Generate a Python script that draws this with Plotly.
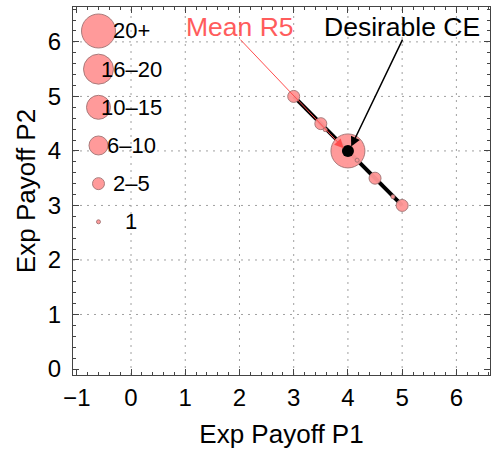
import plotly.graph_objects as go

# Observed outcomes (expected payoffs) and how many groups landed on each
p1_payoff = [3.0, 3.5, 4.0, 4.5, 5.0, 3.58, 4.17, 4.83]
p2_payoff = [5.0, 4.5, 4.0, 3.5, 3.0, 4.39, 3.83, 3.16]
group_bin = ["2–5", "2–5", "20+", "2–5", "2–5", "1", "1", "1"]

# Segment of correlated equilibria along the efficient frontier
ce_p1 = [3.0, 5.0]
ce_p2 = [5.0, 3.0]

# Desirable CE and the round-5 mean
desirable_ce = (4.0, 4.0)
mean_r5 = (3.92, 4.05)

# Bubble-size legend bins
bin_labels = ["20+", "16–20", "10–15", "6–10", "2–5", "1"]

BIN_DIAM = {"20+": 34, "16–20": 30, "10–15": 24, "6–10": 19, "2–5": 12, "1": 4}
FILL = "rgba(255,150,150,0.96)"
EDGE = "rgba(160,115,115,0.9)"
FONT = "Liberation Sans, Arial, sans-serif"

fig = go.Figure()

# dotted grid
for gx in range(0, 7):
    fig.add_shape(type="line", x0=gx, x1=gx, y0=0, y1=1, yref="paper", xref="x",
                  line=dict(color="#a0a0a0", width=1, dash="2px,5px"), layer="below")
for gy in range(1, 7):
    fig.add_shape(type="line", y0=gy, y1=gy, x0=0, x1=1, xref="paper", yref="y",
                  line=dict(color="#a0a0a0", width=1, dash="2px,5px"), layer="below")

fig.add_trace(go.Scatter(x=ce_p1, y=ce_p2, mode="lines",
                         line=dict(color="black", width=4), hoverinfo="skip"))

fig.add_trace(go.Scatter(
    x=p1_payoff, y=p2_payoff, mode="markers",
    marker=dict(size=[BIN_DIAM[b] for b in group_bin], color=FILL, opacity=1,
                line=dict(color=EDGE, width=1)),
))

fig.add_trace(go.Scatter(x=[desirable_ce[0]], y=[desirable_ce[1]], mode="markers",
                         marker=dict(size=12, color="black", opacity=1)))

# size legend drawn inside the plot
leg_y = [6.2 - 0.7 * i for i in range(len(bin_labels))]
fig.add_trace(go.Scatter(
    x=[-0.6] * len(bin_labels), y=leg_y, mode="markers",
    marker=dict(size=[BIN_DIAM[b] for b in bin_labels], color=FILL, opacity=1,
                line=dict(color=EDGE, width=1)),
))
for lab, ly in zip(bin_labels, leg_y):
    fig.add_annotation(x=0.0, y=ly, text=lab, showarrow=False,
                       font=dict(size=22, color="black", family=FONT),
                       xanchor="center", yanchor="middle")

# labelled arrows
fig.add_annotation(x=2.01, y=6.27, text="Mean R5", showarrow=False,
                   font=dict(size=26.5, color="#ff5c5c", family=FONT))
fig.add_annotation(x=mean_r5[0], y=mean_r5[1], ax=1.99, ay=6.07,
                   axref="x", ayref="y", text="", showarrow=True,
                   arrowhead=2, arrowsize=1.8, arrowwidth=1, arrowcolor="#ff4d4d")
fig.add_annotation(x=5.0, y=6.27, text="Desirable CE", showarrow=False,
                   font=dict(size=26.5, color="black", family=FONT))
fig.add_annotation(x=desirable_ce[0] + 0.06, y=desirable_ce[1] + 0.08, ax=5.02, ay=6.07,
                   axref="x", ayref="y", text="", showarrow=True,
                   arrowhead=2, arrowsize=1.3, arrowwidth=1.5, arrowcolor="black")

axis_common = dict(
    showgrid=False, zeroline=False, showline=True, linecolor="#444444", linewidth=1,
    mirror="allticks", ticks="inside", ticklen=6, tickcolor="#444444",
    tickfont=dict(size=24, color="black", family=FONT),
    minor=dict(ticks="inside", ticklen=3, dtick=0.2, tickcolor="#444444", showgrid=False),
    dtick=1,
)
fig.update_xaxes(range=[-1.07, 6.62], tick0=0, ticklabelstandoff=1,
                 title=dict(text="Exp Payoff P1", standoff=15,
                            font=dict(size=26, color="black", family=FONT)),
                 **axis_common)
fig.update_yaxes(range=[-0.11, 6.64], tick0=0, ticklabelstandoff=6,
                 title=dict(text="Exp Payoff P2", standoff=4,
                            font=dict(size=26, color="black", family=FONT)),
                 **axis_common)

fig.update_layout(
    width=492, height=450,
    margin=dict(l=73, r=2, t=7, b=75),
    plot_bgcolor="white", paper_bgcolor="white",
    showlegend=False,
)

fig.write_html("out.html")
